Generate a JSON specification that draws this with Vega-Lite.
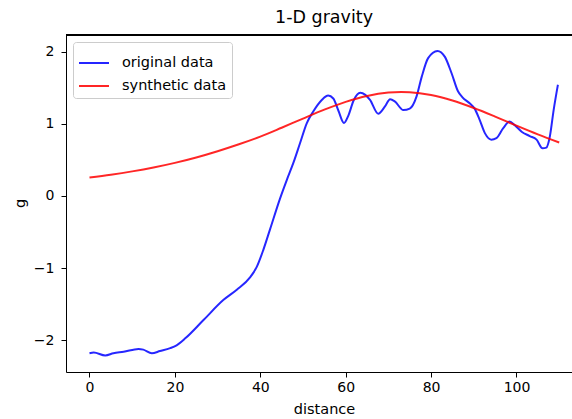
{
  "$schema": "https://vega.github.io/schema/vega-lite/v6.json",
  "autosize": "none",
  "width": 506,
  "height": 337,
  "padding": {"left": 66, "top": 35, "right": 0, "bottom": 47},
  "background": "white",
  "title": {"text": "1-D gravity", "font": "DejaVu Sans", "fontSize": 17.5, "fontWeight": "normal", "color": "#000", "offset": 8, "dx": 5, "anchor": "middle"},
  "data": {"values": [
    {"distance": 0, "g": -2.18, "series": "original data"},
    {"distance": 1, "g": -2.17, "series": "original data"},
    {"distance": 3.7, "g": -2.21, "series": "original data"},
    {"distance": 5.6, "g": -2.18, "series": "original data"},
    {"distance": 8, "g": -2.16, "series": "original data"},
    {"distance": 11.5, "g": -2.12, "series": "original data"},
    {"distance": 12.6, "g": -2.13, "series": "original data"},
    {"distance": 14.6, "g": -2.18, "series": "original data"},
    {"distance": 16.5, "g": -2.15, "series": "original data"},
    {"distance": 18.9, "g": -2.11, "series": "original data"},
    {"distance": 20.4, "g": -2.07, "series": "original data"},
    {"distance": 22.5, "g": -1.97, "series": "original data"},
    {"distance": 26.7, "g": -1.72, "series": "original data"},
    {"distance": 31.4, "g": -1.44, "series": "original data"},
    {"distance": 34.5, "g": -1.30, "series": "original data"},
    {"distance": 37.6, "g": -1.13, "series": "original data"},
    {"distance": 39.2, "g": -0.98, "series": "original data"},
    {"distance": 40.7, "g": -0.75, "series": "original data"},
    {"distance": 42.3, "g": -0.46, "series": "original data"},
    {"distance": 44.6, "g": -0.04, "series": "original data"},
    {"distance": 46.2, "g": 0.22, "series": "original data"},
    {"distance": 47.7, "g": 0.45, "series": "original data"},
    {"distance": 49.3, "g": 0.73, "series": "original data"},
    {"distance": 50.9, "g": 1.01, "series": "original data"},
    {"distance": 52.4, "g": 1.17, "series": "original data"},
    {"distance": 54.4, "g": 1.33, "series": "original data"},
    {"distance": 55.9, "g": 1.39, "series": "original data"},
    {"distance": 57.1, "g": 1.35, "series": "original data"},
    {"distance": 58.3, "g": 1.18, "series": "original data"},
    {"distance": 59.6, "g": 1.01, "series": "original data"},
    {"distance": 60.6, "g": 1.11, "series": "original data"},
    {"distance": 61.9, "g": 1.33, "series": "original data"},
    {"distance": 63.4, "g": 1.43, "series": "original data"},
    {"distance": 64.6, "g": 1.40, "series": "original data"},
    {"distance": 65.7, "g": 1.33, "series": "original data"},
    {"distance": 67.6, "g": 1.14, "series": "original data"},
    {"distance": 69.2, "g": 1.24, "series": "original data"},
    {"distance": 70.4, "g": 1.34, "series": "original data"},
    {"distance": 71.5, "g": 1.31, "series": "original data"},
    {"distance": 73.5, "g": 1.19, "series": "original data"},
    {"distance": 75.0, "g": 1.21, "series": "original data"},
    {"distance": 76.6, "g": 1.38, "series": "original data"},
    {"distance": 77.8, "g": 1.65, "series": "original data"},
    {"distance": 79.3, "g": 1.91, "series": "original data"},
    {"distance": 81.5, "g": 2.01, "series": "original data"},
    {"distance": 83.2, "g": 1.93, "series": "original data"},
    {"distance": 84.8, "g": 1.70, "series": "original data"},
    {"distance": 86.3, "g": 1.45, "series": "original data"},
    {"distance": 87.3, "g": 1.37, "series": "original data"},
    {"distance": 89.1, "g": 1.28, "series": "original data"},
    {"distance": 90.2, "g": 1.21, "series": "original data"},
    {"distance": 91.4, "g": 1.05, "series": "original data"},
    {"distance": 92.6, "g": 0.87, "series": "original data"},
    {"distance": 94.1, "g": 0.78, "series": "original data"},
    {"distance": 95.3, "g": 0.80, "series": "original data"},
    {"distance": 96.9, "g": 0.94, "series": "original data"},
    {"distance": 98.4, "g": 1.03, "series": "original data"},
    {"distance": 99.6, "g": 0.98, "series": "original data"},
    {"distance": 101.2, "g": 0.89, "series": "original data"},
    {"distance": 103.1, "g": 0.83, "series": "original data"},
    {"distance": 104.7, "g": 0.78, "series": "original data"},
    {"distance": 106.1, "g": 0.66, "series": "original data"},
    {"distance": 107.0, "g": 0.67, "series": "original data"},
    {"distance": 107.8, "g": 0.82, "series": "original data"},
    {"distance": 108.7, "g": 1.19, "series": "original data"},
    {"distance": 109.7, "g": 1.54, "series": "original data"},
    {"distance": 0, "g": 0.255, "series": "synthetic data"},
    {"distance": 5, "g": 0.294, "series": "synthetic data"},
    {"distance": 10, "g": 0.340, "series": "synthetic data"},
    {"distance": 15, "g": 0.394, "series": "synthetic data"},
    {"distance": 20, "g": 0.458, "series": "synthetic data"},
    {"distance": 25, "g": 0.533, "series": "synthetic data"},
    {"distance": 30, "g": 0.620, "series": "synthetic data"},
    {"distance": 35, "g": 0.716, "series": "synthetic data"},
    {"distance": 40, "g": 0.822, "series": "synthetic data"},
    {"distance": 45, "g": 0.945, "series": "synthetic data"},
    {"distance": 50, "g": 1.072, "series": "synthetic data"},
    {"distance": 55, "g": 1.195, "series": "synthetic data"},
    {"distance": 60, "g": 1.303, "series": "synthetic data"},
    {"distance": 65, "g": 1.385, "series": "synthetic data"},
    {"distance": 70, "g": 1.432, "series": "synthetic data"},
    {"distance": 73, "g": 1.44, "series": "synthetic data"},
    {"distance": 75, "g": 1.437, "series": "synthetic data"},
    {"distance": 80, "g": 1.398, "series": "synthetic data"},
    {"distance": 85, "g": 1.322, "series": "synthetic data"},
    {"distance": 90, "g": 1.218, "series": "synthetic data"},
    {"distance": 95, "g": 1.099, "series": "synthetic data"},
    {"distance": 100, "g": 0.974, "series": "synthetic data"},
    {"distance": 105, "g": 0.853, "series": "synthetic data"},
    {"distance": 110, "g": 0.740, "series": "synthetic data"}
  ]},
  "layer": [
    {
      "mark": {"type": "line", "strokeWidth": 2, "interpolate": "monotone", "opacity": 0.85},
      "encoding": {
        "x": {"field": "distance", "type": "quantitative",
              "scale": {"domain": [-5.5, 113.0], "nice": false, "zero": false},
              "axis": {"values": [0, 20, 40, 60, 80, 100], "title": "distance", "titleX": 258}},
        "y": {"field": "g", "type": "quantitative",
              "scale": {"domain": [-2.44, 2.23], "nice": false, "zero": false},
              "axis": {"values": [-2, -1, 0, 1, 2], "format": "d", "title": "g", "titleX": -39, "titleY": 168, "labelExpr": "replace(datum.label, '-', '\u2212')"}},
        "color": {"field": "series", "type": "nominal",
                  "scale": {"domain": ["original data", "synthetic data"], "range": ["#0000ff", "#ff0000"]},
                  "legend": {"title": null, "orient": "top-left", "offset": 7}}
      }
    },
    {
      "mark": {"type": "rule", "color": "#000", "strokeWidth": 1},
      "encoding": {"y": {"datum": 2.23}}
    }
  ],
  "config": {
    "view": {"stroke": null},
    "axis": {
      "grid": false, "domain": true, "domainColor": "#000", "domainWidth": 1,
      "tickColor": "#000", "tickSize": 5, "tickWidth": 1,
      "labelFont": "DejaVu Sans", "labelFontSize": 14, "labelColor": "#000",
      "titleFont": "DejaVu Sans", "titleFontSize": 14.5, "titleFontWeight": "normal", "titleColor": "#000"
    },
    "axisY": {"labelPadding": 7},
    "axisX": {"labelPadding": 3, "titlePadding": 8},
    "legend": {
      "labelFont": "DejaVu Sans", "labelFontSize": 14.5, "labelColor": "#000",
      "symbolType": "stroke", "symbolStrokeWidth": 2, "symbolSize": 900, "symbolOpacity": 0.85,
      "rowPadding": -6, "labelOffset": 12,
      "padding": 5, "fillColor": "white", "strokeColor": "#cccccc", "cornerRadius": 3
    }
  }
}
